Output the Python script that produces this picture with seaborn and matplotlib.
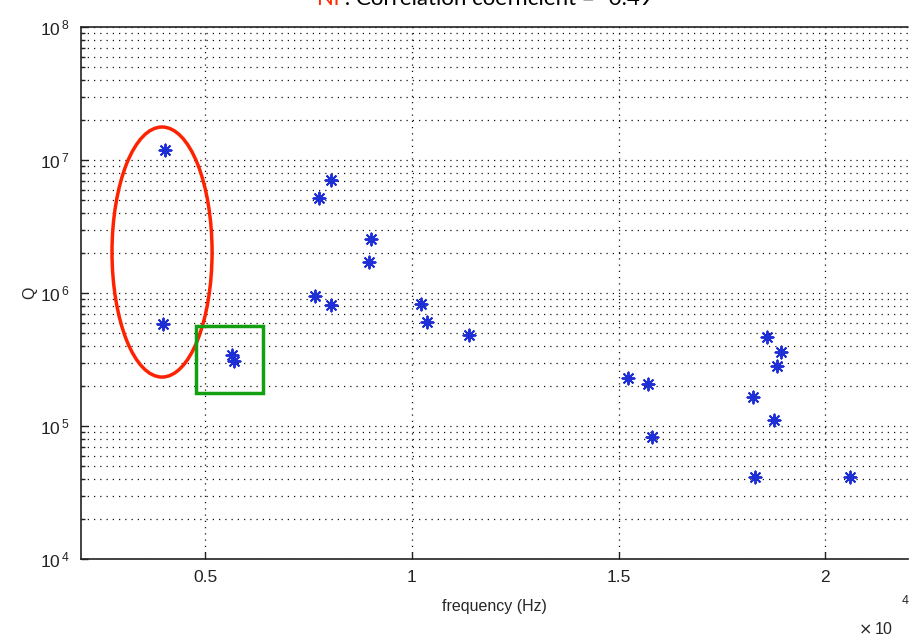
import numpy as np
import pandas as pd
import matplotlib
matplotlib.use("Agg")
import matplotlib.pyplot as plt
from matplotlib.patches import Ellipse, Rectangle
from matplotlib.ticker import LogLocator, FixedLocator, NullFormatter, FuncFormatter
import seaborn as sns

# Resonance measurements: frequency (in units of 1e4 Hz) and quality factor Q
freq = [0.403, 0.399, 0.565, 0.570, 0.804, 0.775, 0.901, 0.896, 0.766, 0.804,
        1.022, 1.036, 1.138, 1.524, 1.572, 1.582, 1.860, 1.894, 1.884, 1.826,
        1.877, 1.829, 2.060]
q_factor = [1.19e7, 5.85e5, 3.42e5, 3.08e5, 7.08e6, 5.18e6, 2.55e6, 1.71e6, 9.48e5, 8.13e5,
            8.26e5, 6.05e5, 4.83e5, 2.30e5, 2.07e5, 8.26e4, 4.67e5, 3.60e5, 2.83e5, 1.65e5,
            1.11e5, 4.14e4, 4.14e4]
x_ticks = [0.5, 1, 1.5, 2]
x_tick_labels = ["0.5", "1", "1.5", "2"]
title_element = "Ni"
title_rest = " : Correlation coefficient = -0.49"

df = pd.DataFrame({"frequency": freq, "Q": q_factor})

sns.set_style("white")
plt.rcParams["font.family"] = ["Liberation Sans", "DejaVu Sans"]

fig = plt.figure(figsize=(9.1, 6.4), dpi=100)
W, H = 910, 640
ax = fig.add_axes([81 / W, 1 - 559 / H, (908 - 81) / W, (559 - 27) / H])

sns.scatterplot(data=df, x="frequency", y="Q", marker=(8, 2, 0), color="#1f2fd6",
                s=75, linewidth=1.4, ax=ax, legend=False, zorder=3)

ax.set_yscale("log")
ax.set_xlim(0.2, 2.2)
ax.set_ylim(1e4, 1e8)

ax.xaxis.set_major_locator(FixedLocator(x_ticks))
ax.set_xticklabels(x_tick_labels)
ax.yaxis.set_major_locator(LogLocator(base=10, numticks=10))
ax.yaxis.set_major_formatter(FuncFormatter(
    lambda v, p: r"$\mathregular{10^{\,%d}}$" % int(round(np.log10(v)))))
ax.yaxis.set_minor_locator(LogLocator(base=10, subs=np.arange(2, 10), numticks=20))
ax.yaxis.set_minor_formatter(NullFormatter())

ax.grid(True, which="major", axis="both", color="#111111", linestyle=(0, (1, 4)), linewidth=0.9)
ax.grid(True, which="minor", axis="y", color="#111111", linestyle=(0, (1, 4)), linewidth=0.9)

ax.tick_params(which="both", direction="in", length=5, width=1, colors="#222222",
               labelsize=12.5, top=False, right=False, left=True, bottom=True)
ax.tick_params(axis="x", pad=8)
ax.tick_params(axis="y", pad=8)
ax.tick_params(which="minor", length=3)
for side in ["left", "bottom"]:
    ax.spines[side].set_linewidth(1.2)
    ax.spines[side].set_color("#222222")
for side in ["top", "right"]:
    ax.spines[side].set_visible(False)
ax.plot([0, 1], [1, 1], transform=ax.transAxes, color="#222222", lw=1.2, clip_on=False)

ax.set_xlabel("frequency (Hz)", fontsize=11.5, labelpad=10)
ax.set_ylabel("Q", fontsize=11.5, labelpad=2)

# x-axis multiplier
fig.text(858 / W, 1 - 634 / H, r"$\times\,\mathregular{10}$", fontsize=11.5, ha="left", va="baseline")
fig.text(902 / W, 1 - 604 / H, "4", fontsize=9, ha="left", va="baseline")

# highlighted groups
ax.add_patch(Ellipse((0.098, 0.577), 0.121, 0.47, transform=ax.transAxes,
                     fill=False, edgecolor="#ff2200", lw=2.5, zorder=4))
ax.add_patch(Rectangle((0.139, 0.312), 0.081, 0.126, transform=ax.transAxes,
                       fill=False, edgecolor="#12a012", lw=2.5, zorder=4))

# two-colour title, partly above the top edge
t1 = fig.text(317 / W, 1 - 5 / H, title_element, color="#ff2a00", fontsize=16,
              family=["Lato", "DejaVu Sans"], ha="left", va="baseline")
fig.canvas.draw()
bb = t1.get_window_extent(fig.canvas.get_renderer())
fig.text(bb.x1 / W, 1 - 5 / H, title_rest, color="black", fontsize=16,
         family=["Lato", "DejaVu Sans"], ha="left", va="baseline")

fig.savefig("out.png", dpi=100)
